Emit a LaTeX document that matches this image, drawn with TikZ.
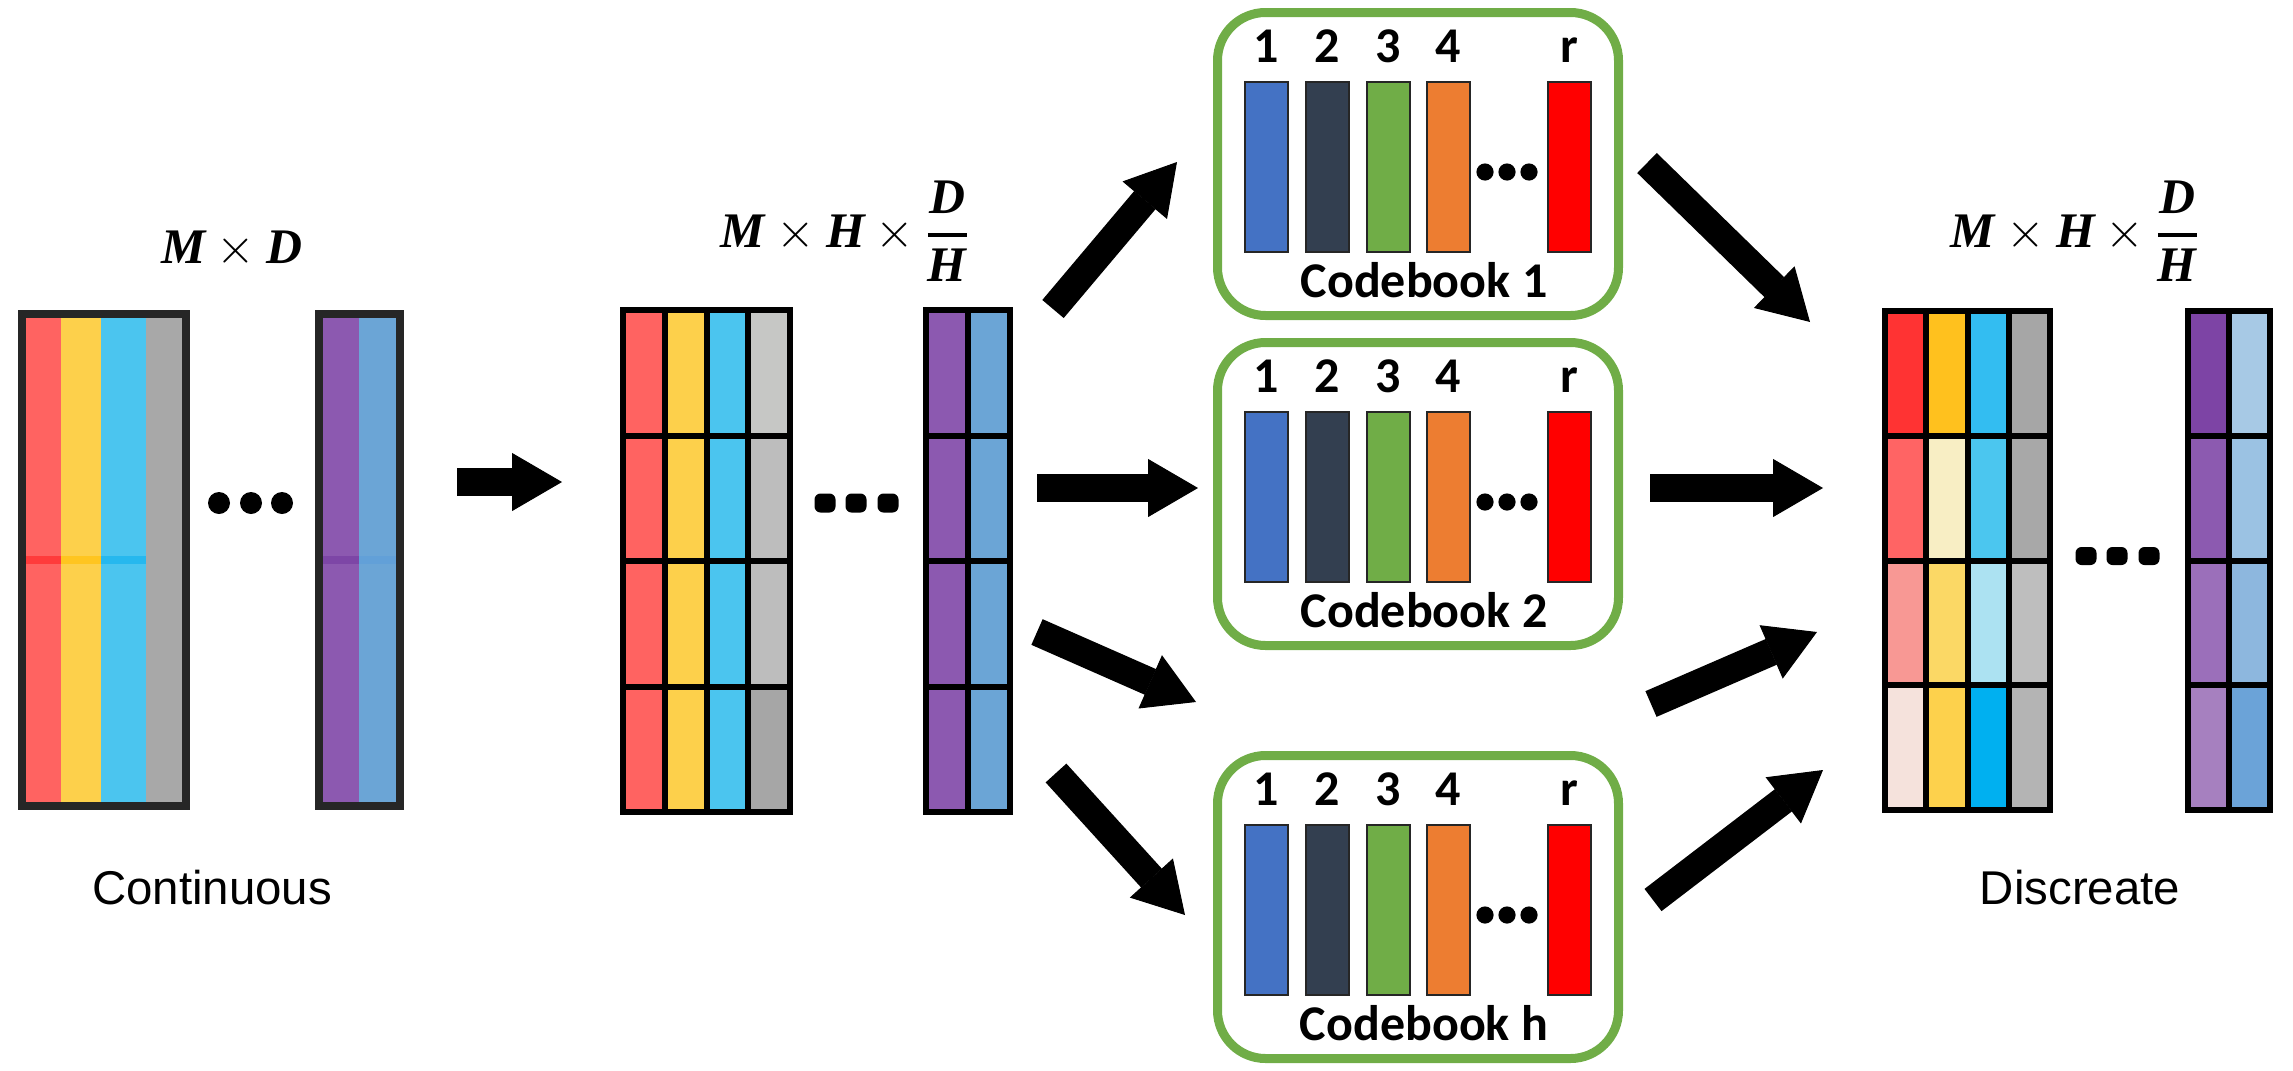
\documentclass[tikz,border=0pt]{standalone}
\usepackage{fontspec}
\usepackage{amsmath}
\usetikzlibrary{arrows.meta}
\newfontfamily\cbfont{Carlito}
\newfontfamily\capfont{Liberation Sans}
\newfontfamily\dimfont{Liberation Serif}
\newcommand\dv[1]{\text{\dimfont\bfseries\itshape #1}}
\definecolor{cRed}{HTML}{FF6361}
\definecolor{cYel}{HTML}{FDD04B}
\definecolor{cBlu}{HTML}{4BC5EF}
\definecolor{cGry}{HTML}{A8A8A8}
\definecolor{cPur}{HTML}{8C59B0}
\definecolor{cSky}{HTML}{6BA5D6}
\definecolor{cRedD}{HTML}{FF3B3B}
\definecolor{cYelD}{HTML}{FFC520}
\definecolor{cBluD}{HTML}{26B8EE}
\definecolor{cPurD}{HTML}{7D46A6}
\definecolor{cSkyD}{HTML}{62A0D8}
\definecolor{gA}{HTML}{C6C7C5}
\definecolor{gB}{HTML}{BDBDBD}
\definecolor{gC}{HTML}{A6A6A6}
\definecolor{dR1}{HTML}{FF3333}
\definecolor{dY1}{HTML}{FFC11E}
\definecolor{dB1}{HTML}{33BDF1}
\definecolor{dG1}{HTML}{A6A6A6}
\definecolor{dP1}{HTML}{7D44A5}
\definecolor{dS1}{HTML}{A7C9E5}
\definecolor{dR2}{HTML}{FF6464}
\definecolor{dY2}{HTML}{F8EEC4}
\definecolor{dB2}{HTML}{4BC6EF}
\definecolor{dG2}{HTML}{A8A8A8}
\definecolor{dP2}{HTML}{8C5AB0}
\definecolor{dS2}{HTML}{9BC2E3}
\definecolor{dR3}{HTML}{F89894}
\definecolor{dY3}{HTML}{FBD865}
\definecolor{dB3}{HTML}{ACE2F2}
\definecolor{dG3}{HTML}{BEBEBE}
\definecolor{dP3}{HTML}{9B6FBA}
\definecolor{dS3}{HTML}{8DB7DE}
\definecolor{dR4}{HTML}{F5E2DC}
\definecolor{dY4}{HTML}{FDD14C}
\definecolor{dB4}{HTML}{00B0F0}
\definecolor{dG4}{HTML}{B4B4B4}
\definecolor{dP4}{HTML}{A680BF}
\definecolor{dS4}{HTML}{6BA3D8}
\definecolor{bBlue}{HTML}{4472C4}
\definecolor{bDark}{HTML}{333F50}
\definecolor{bGreen}{HTML}{70AD47}
\definecolor{bOrange}{HTML}{ED7D31}
\definecolor{bRed}{HTML}{FF0000}
\definecolor{cbGreen}{HTML}{70AD47}

\begin{document}
\begin{tikzpicture}[x=0.5pt,y=-0.5pt,
cell/.style={draw=black,line width=3pt},
cbox/.style={draw=cbGreen,line width=4.5pt,rounded corners=24pt,minimum width=200.5pt,minimum height=151.5pt,inner sep=0pt},
bar/.style={draw=black!85,line width=1.2pt},
num/.style={font=\cbfont\bfseries\fontsize{25}{28}\selectfont,inner sep=0pt,anchor=base},
arrow/.style={line width=14pt,-{Triangle[length=25pt,width=29pt,line width=.5pt]}},
dimlabel/.style={font=\Huge,inner sep=0pt,anchor=base},
caption/.style={font=\capfont\fontsize{23.7}{28}\selectfont,inner sep=0pt}]
\useasboundingbox (0,0) rectangle (2293,1071);
\foreach \xa/\xb/\col in {22/61/cRed,61/101/cYel,101/146/cBlu,146/186/cGry,319/359/cPur,359/400/cSky}
 \fill[\col] (\xa,314) rectangle (\xb,806);
\foreach \xa/\xb/\col in {22/61/cRedD,61/101/cYelD,101/146/cBluD,319/359/cPurD,359/400/cSkyD}
 \fill[\col] (\xa,556) rectangle (\xb,564);
\draw[line width=4pt,draw=black!85] (22,314) rectangle (186,806);
\draw[line width=4pt,draw=black!85] (319,314) rectangle (400,806);
\foreach \dx in {219,251,282} \fill (\dx,503) circle (5.5pt);
\node[dimlabel] (dimIn) at (232,263) {$\dv{M}\times\dv{D}$};
\node[caption] (lblCont) at (212,888) {Continuous};
\foreach \r/\g in {0/gA,1/gB,2/gB,3/gC}{
 \foreach \c/\col in {0/cRed,1/cYel,2/cBlu,3/\g}
  \draw[cell,fill=\col] (623+41.75*\c,310+125.5*\r) rectangle ++(41.75,125.5);
 \foreach \c/\col in {0/cPur,1/cSky}
  \draw[cell,fill=\col] (926+42*\c,310+125.5*\r) rectangle ++(42,125.5);
}
\foreach \dx in {825,856,888} \fill[rounded corners=3pt] (\dx-10.5,493.5) rectangle ++(21,19);
\node[dimlabel] (dimMid) at (845,247) {$\dv{M}\times\dv{H}\times\genfrac{}{}{2pt}{0}{\dv{D}}{\dv{H}}$};
\foreach \k/\cy in {1/164,2/494,h/907}{
 \node[cbox] (cb\k) at (1418,\cy) {};
 \foreach \bx/\bc/\n in {1245/bBlue/1,1306/bDark/2,1367/bGreen/3,1427/bOrange/4,1548/bRed/r}{
  \draw[bar,fill=\bc] (\bx,\cy-82) rectangle ++(43,170);
  \node[num] at (\bx+21.5,\cy-102) {\n};
 }
 \foreach \dx in {1485,1507,1529} \fill (\dx,\cy+8) circle (4.3pt);
 \node[num] (cbname\k) at (1424,\cy+133) {Codebook \k};
}
\foreach \r/\ka/\kb/\kc/\kd/\ke/\kf in {0/dR1/dY1/dB1/dG1/dP1/dS1,1/dR2/dY2/dB2/dG2/dP2/dS2,2/dR3/dY3/dB3/dG3/dP3/dS3,3/dR4/dY4/dB4/dG4/dP4/dS4}{
 \foreach \c/\col in {0/\ka,1/\kb,2/\kc,3/\kd}
  \draw[cell,fill=\col] (1885+41.25*\c,311+124.75*\r) rectangle ++(41.25,124.75);
 \foreach \c/\col in {0/\ke,1/\kf}
  \draw[cell,fill=\col] (2188+41*\c,311+124.75*\r) rectangle ++(41,124.75);
}
\foreach \dx in {2086,2117,2149} \fill[rounded corners=3pt] (\dx-10.5,547) rectangle ++(21,18);
\node[dimlabel] (dimOut) at (2075,247) {$\dv{M}\times\dv{H}\times\genfrac{}{}{2pt}{0}{\dv{D}}{\dv{H}}$};
\node[caption] (lblDisc) at (2080,888) {Discreate};
\coordinate (a0s) at (457,482); \coordinate (a0e) at (562,482);
\coordinate (a1s) at (1053,309); \coordinate (a1e) at (1177,162);
\coordinate (a2s) at (1037,488); \coordinate (a2e) at (1198,488);
\coordinate (a3s) at (1037,632); \coordinate (a3e) at (1196,702);
\coordinate (a4s) at (1056,773); \coordinate (a4e) at (1185,915);
\coordinate (a5s) at (1647,163); \coordinate (a5e) at (1810,322);
\coordinate (a6s) at (1650,488); \coordinate (a6e) at (1823,488);
\coordinate (a7s) at (1651,704); \coordinate (a7e) at (1817,632);
\coordinate (a8s) at (1653,900); \coordinate (a8e) at (1823,770);
\draw[arrow] (a0s)--(a0e);
\draw[arrow] (a1s)--(a1e);
\draw[arrow] (a2s)--(a2e);
\draw[arrow] (a3s)--(a3e);
\draw[arrow] (a4s)--(a4e);
\draw[arrow] (a5s)--(a5e);
\draw[arrow] (a6s)--(a6e);
\draw[arrow] (a7s)--(a7e);
\draw[arrow] (a8s)--(a8e);
\end{tikzpicture}
\end{document}
